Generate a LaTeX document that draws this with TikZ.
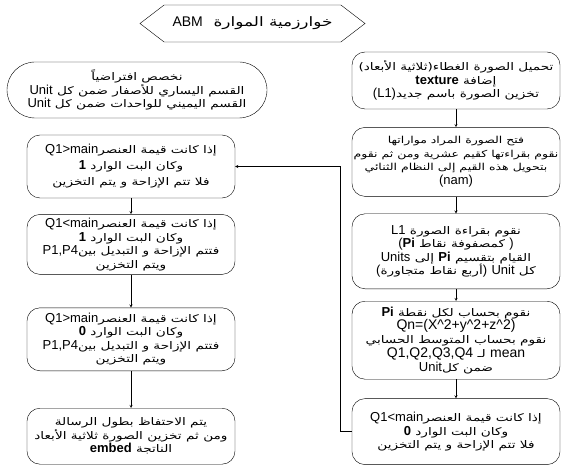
\documentclass[tikz,border=0pt]{standalone}
\usepackage{fontspec}
\setmainfont{Liberation Sans}
\newfontfamily\arabicfont[Script=Arabic,FakeStretch=1.3]{DejaVu Sans}
\TeXXeTstate=1
\usetikzlibrary{positioning,shapes.symbols}
\newcommand{\ar}[1]{{\arabicfont\beginR #1\endR}}
\newcommand{\lt}[1]{{\rmfamily\fontsize{13}{13.5}\selectfont #1}}
\newcommand{\bigLt}[1]{{\rmfamily\fontsize{14}{14}\selectfont #1}}

\begin{document}
\begin{tikzpicture}[x=1pt,y=-1pt,->,>=stealth,thin,
		base node/.style={draw,align=center,inner sep=1pt,font=\arabicfont\fontsize{10.5}{13.5}\selectfont},
		step box/.style={base node,rounded corners=13pt,minimum width=208pt},
		title node/.style={base node,signal,signal to=west and east,signal pointer angle=75,minimum width=225pt,minimum height=37pt,font=\arabicfont\fontsize{13}{14}\selectfont},
		note node/.style={base node,rounded corners=28pt,minimum width=260pt,minimum height=56pt}]
		\useasboundingbox (0,0) rectangle (562,465);
		% العنوان
		\node[title node] (title) at (252.5,23.5) {{\rmfamily\fontsize{14}{14}\selectfont ABM}\ \ \ar{خوارزمية الموارة}};
		\node[note node] (note) at (137,90) {\ar{نخصص افتراضياً}\\
			\lt{Unit} \ar{القسم اليساري للأصفار ضمن كل}\\
			\lt{Unit} \ar{القسم اليميني للواحدات ضمن كل}};
		
		% العمود الأيمن
		\node[step box, minimum height=57pt] (r1) at (456,80.5) {\ar{تحميل الصورة الغطاء(ثلاثية الأبعاد)}\\
			\lt{\bfseries texture} \ar{إضافة}\\
			\lt{(L1)}\ar{تخزين الصورة باسم جديد}};
		\node[step box, minimum height=69pt, font=\arabicfont\fontsize{9.6}{13.5}\selectfont] (r2) [below=18pt of r1] {\ar{فتح الصورة المراد مواراتها}\\
			\ar{نقوم بقراءتها كقيم عشرية ومن ثم نقوم}\\
			\ar{بتحويل هذه القيم إلى النظام الثنائي}\\
			\lt{(nam)}};
		\node[step box, minimum height=75pt] (r3) [below=17pt of r2] {\lt{L1} \ar{نقوم بقراءة الصورة}\\
			\lt{(\bfseries Pi} \ar{كمصفوفة نقاط} \lt{)}\\
			\lt{Units} \ar{إلى} \lt{\bfseries Pi} \ar{القيام بتقسيم}\\
			\lt{(}\ar{أربع نقاط متجاورة}\lt{)} \lt{Unit} \ar{كل}};
		\node[step box, minimum height=78pt, font=\arabicfont\fontsize{10.5}{13.8}\selectfont] (r4) [below=12pt of r3] {\lt{\bfseries Pi} \ar{نقوم بحساب لكل نقطة}\\
			\bigLt{Qn=(X\textasciicircum2+y\textasciicircum2+z\textasciicircum2)}\\
			\ar{نقوم بحساب المتوسط الحسابي}\\
			\bigLt{Q1,Q2,Q3,Q4} \ar{لـ} \bigLt{mean}\\
			\lt{Unit}\ar{ضمن كل}};
		\node[step box, minimum height=66pt] (r5) [below=19pt of r4] {\lt{Q1<main}\ar{إذا كانت قيمة العنصر}\\
			\lt{\bfseries 0} \ar{وكان البت الوارد}\\
			\ar{فلا تتم الإزاحة و يتم التخزين}};
		
		% العمود الأيسر
		\node[step box, minimum height=63pt, font=\arabicfont\fontsize{10.5}{16}\selectfont] (l1) at (131,166.5) {\lt{Q1>main}\ar{إذا كانت قيمة العنصر}\\
			\lt{\bfseries 1} \ar{وكان البت الوارد}\\
			\ar{فلا تتم الإزاحة و يتم التخزين}};
		\node[step box, minimum height=60pt] (l2) [below=16pt of l1] {\lt{Q1<main}\ar{إذا كانت قيمة العنصر}\\
			\lt{\bfseries 1} \ar{وكان البت الوارد}\\
			\lt{P1,P4}\ar{فتتم الإزاحة و التبديل بين}\\
			\ar{ويتم التخزين}};
		\node[step box, minimum height=63pt] (l3) [below=33pt of l2] {\lt{Q1>main}\ar{إذا كانت قيمة العنصر}\\
			\lt{\bfseries 0} \ar{وكان البت الوارد}\\
			\lt{P1,P4}\ar{فتتم الإزاحة و التبديل بين}\\
			\ar{ويتم التخزين}};
		\node[step box, minimum height=56pt] (l4) [below=37pt of l3] {\ar{يتم الاحتفاظ بطول الرسالة}\\
			\ar{ومن ثم تخزين الصورة ثلاثية الأبعاد}\\
			\lt{\bfseries embed} \ar{الناتجة}};
		
		\draw (r1) -- (r2);
		\draw (r2) -- (r3);
		\draw (r3) -- (r4);
		\draw (r4) -- (r5);
		\draw (r5.west) -- ++(-12,0) |- (l1.east);
		\draw (l1) -- (l2);
		\draw (l2) -- (l3);
		\draw (l3) -- (l4);
\end{tikzpicture}
\end{document}
